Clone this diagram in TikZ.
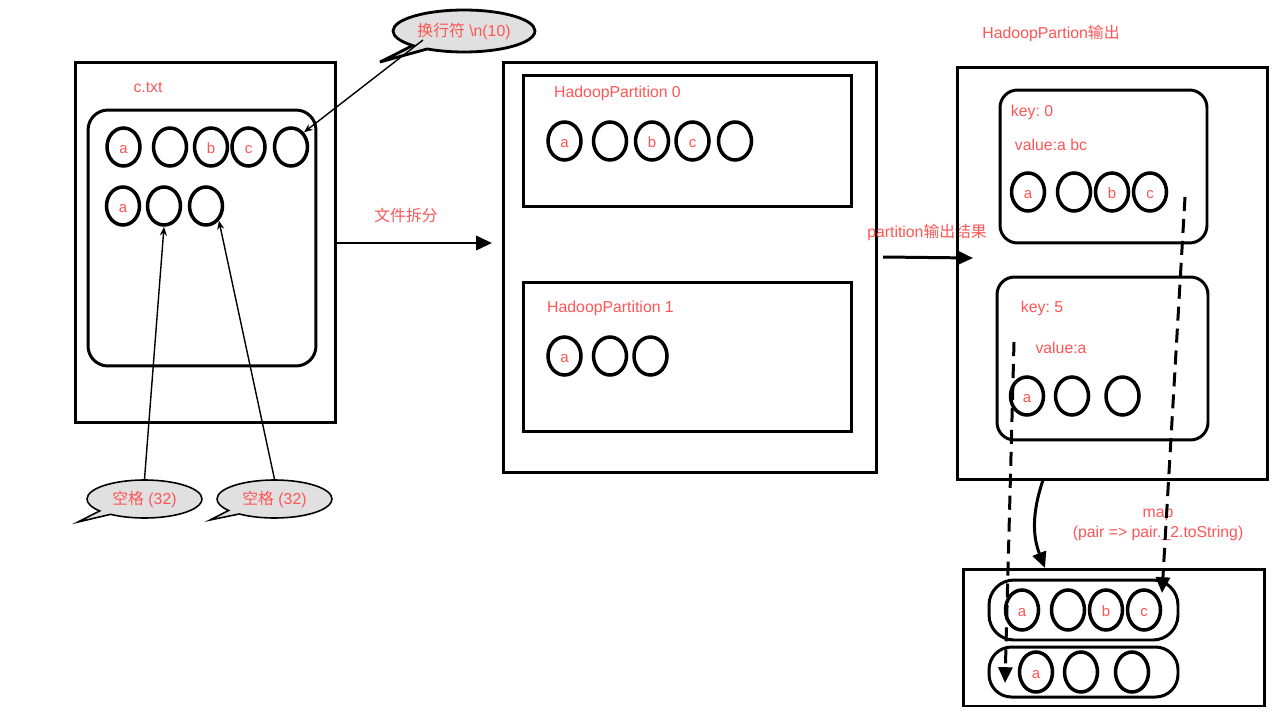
\documentclass[tikz,border=0pt]{standalone}
\usepackage{fontspec}
\setmainfont{Liberation Sans}
\newfontfamily\cjk{Noto Sans CJK SC}
\usetikzlibrary{arrows.meta,shapes.geometric,shapes.callouts}
\definecolor{labelred}{RGB}{255,85,85}
\definecolor{bubblegray}{RGB}{224,224,224}
\frenchspacing

\begin{document}
\begin{tikzpicture}[
    x=0.02cm, y=-0.02cm,
    frame/.style={rectangle, draw, line width=1.7pt, inner sep=0pt},
    roundframe/.style={frame, rounded corners=0.4cm},
    char/.style={ellipse, draw, line width=2pt, minimum width=0.66cm, minimum height=0.76cm, inner sep=0pt, text height=1.4ex, text depth=0pt, text=labelred, font=\fontsize{8.5}{10}\selectfont},
    redtext/.style={text=labelred, font=\fontsize{9}{11}\selectfont, inner sep=0pt, align=center},
    bubble/.style={ellipse callout, draw, fill=bubblegray, line width=0.9pt, inner sep=0pt, text=labelred, font=\fontsize{9}{11}\selectfont},
    arrow/.style={-{Triangle[length=9pt,width=8pt]}, line width=1.7pt},
    dasharrow/.style={arrow, dash pattern=on 8pt off 4.5pt},
    pointer/.style={-{Stealth[length=5pt,width=4pt]}, line width=0.8pt}
]
\useasboundingbox (0,0) rectangle (1280,720);

% c.txt
\node[frame, minimum width=5.22cm, minimum height=7.22cm] (ctxt) at (205.5,242.5) {};
\node[roundframe, minimum width=4.56cm, minimum height=5.12cm] (ctxtbody) at (202,238) {};
\node[redtext] (ctxtlbl) at (148,87) {c.txt};
\node[char] (t1) at (123.5,147) {a};
\node[char] (t2) at (170,147) {};
\node[char] (t3) at (211,147) {b};
\node[char] (t4) at (248.5,147) {c};
\node[char] (t5) at (291,147) {};
\node[char] (t6) at (123,206) {a};
\node[char] (t7) at (164,206) {};
\node[char] (t8) at (206,206) {};

% bubbles
\node[bubble, line width=1.6pt, minimum width=2.84cm, minimum height=0.84cm, callout absolute pointer={(380,62)}] (nlbubble) at (464,31) {{\cjk 换行符} \textbackslash n(10)};
\node[bubble, minimum width=2.3cm, minimum height=0.76cm, callout absolute pointer={(78,522)}] (spbubbleA) at (144.5,499) {{\cjk 空格} (32)};
\node[bubble, minimum width=2.3cm, minimum height=0.76cm, callout absolute pointer={(210,520)}] (spbubbleB) at (274.5,499) {{\cjk 空格} (32)};
\coordinate (nlstart) at (423,40);
\draw[pointer] (nlstart) -- (t5.north east);
\draw[pointer] (spbubbleA.north) -- (t7.south);
\draw[pointer] (spbubbleB.north) -- (t8.south east);

% split
\coordinate (splitend) at (492,243);
\draw[arrow] (ctxt.east |- splitend) -- (splitend);
\node[redtext] (splitlbl) at (406,215) {\cjk 文件拆分};

\node[frame, minimum width=7.48cm, minimum height=8.22cm] (split) at (690,267.5) {};
\node[frame, minimum width=6.58cm, minimum height=2.64cm] (partA) at (687.5,141) {};
\node[frame, minimum width=6.58cm, minimum height=3.0cm] (partB) at (687.5,357) {};
\node[redtext] (partAlbl) at (617.5,93) {HadoopPartition 0};
\node[redtext] (partBlbl) at (610.5,308) {HadoopPartition 1};
\node[char] (pa1) at (564.5,141) {a};
\node[char] (pa2) at (610,141) {};
\node[char] (pa3) at (652,141) {b};
\node[char] (pa4) at (692.5,141) {c};
\node[char] (pa5) at (735,141) {};
\node[char] (pb1) at (564.5,356) {a};
\node[char] (pb2) at (610,356) {};
\node[char] (pb3) at (650.5,356) {};

% partition output
\coordinate (outstart) at (883,257);
\coordinate (outend) at (973,258);
\draw[arrow] (outstart) -- (outend);
\node[redtext] (outlbl) at (927,232) {partition{\cjk 输出结果}};
\node[redtext] (outtitle) at (1051,33) {HadoopPartion{\cjk 输出}};

\node[frame, minimum width=6.22cm, minimum height=8.26cm] (output) at (1112.5,273.5) {};
\node[roundframe, rounded corners=0.35cm, minimum width=4.14cm, minimum height=3.06cm] (keyA) at (1103.5,166.5) {};
\node[roundframe, rounded corners=0.35cm, minimum width=4.22cm, minimum height=3.26cm] (keyB) at (1102.5,358.5) {};
\node[redtext] (keyAlbl) at (1032,112) {key: 0};
\node[redtext] (valAlbl) at (1051,145) {value:a bc};
\node[redtext] (keyBlbl) at (1042,308) {key: 5};
\node[redtext] (valBlbl) at (1061,348) {value:a};
\node[char] (ka1) at (1028,192) {a};
\node[char] (ka2) at (1074,192) {};
\node[char] (ka3) at (1112,192) {b};
\node[char] (ka4) at (1150,192) {c};
\node[char] (kb1) at (1027,396) {a};
\node[char] (kb2) at (1072,396) {};
\node[char] (kb3) at (1122.5,396) {};

% map result
\node[frame, minimum width=6.04cm, minimum height=2.74cm] (result) at (1114,637.5) {};
\node[roundframe, rounded corners=0.5cm, minimum width=3.78cm, minimum height=1.2cm] (rowA) at (1083.5,610) {};
\node[roundframe, rounded corners=0.45cm, minimum width=3.78cm, minimum height=1.0cm] (rowB) at (1083.5,672) {};
\node[char, minimum height=0.8cm] (ra1) at (1022,610) {a};
\node[char, minimum height=0.8cm] (ra2) at (1068,610) {};
\node[char, minimum height=0.8cm] (ra3) at (1106,610) {b};
\node[char, minimum height=0.8cm] (ra4) at (1144,610) {c};
\node[char, minimum height=0.8cm] (rb1) at (1036,672) {a};
\node[char, minimum height=0.8cm] (rb2) at (1081,672) {};
\node[char, minimum height=0.8cm] (rb3) at (1132,672) {};

\coordinate (mapstart) at (1043,480);
\coordinate (mapend) at (1045,568);
\draw[arrow] (mapstart) to[bend right=20] (mapend);
\node[redtext] (maplbl) at (1158,525) {map\\(pair => pair.\_2.toString)};

\coordinate (dashAstart) at (1014,342);
\coordinate (dashAend) at (1005,683);
\coordinate (dashBstart) at (1185,197);
\coordinate (dashBend) at (1162,593);
\draw[dasharrow] (dashAstart) -- (dashAend);
\draw[dasharrow] (dashBstart) -- (dashBend);
\end{tikzpicture}
\end{document}
